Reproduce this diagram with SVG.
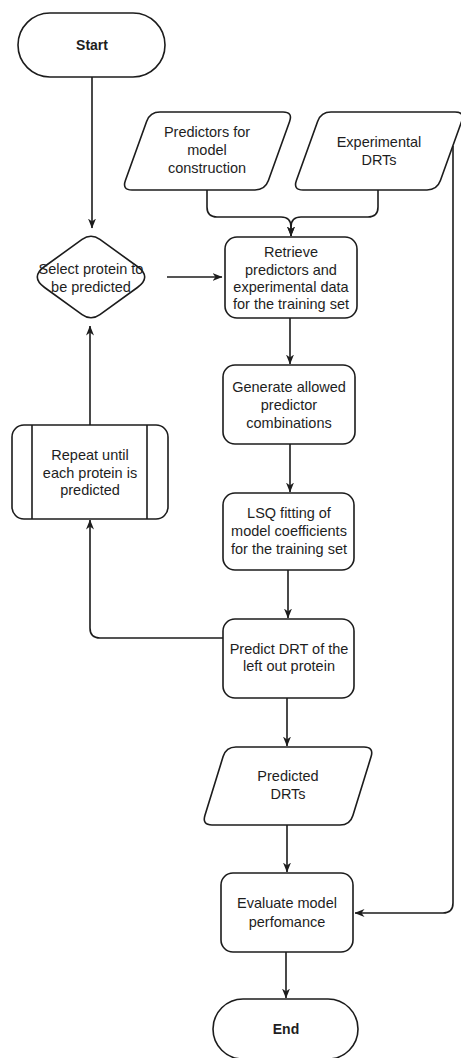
<svg xmlns="http://www.w3.org/2000/svg" width="461" height="1058" viewBox="0 0 461 1058">
  <style>
    .shape { fill: #ffffff; stroke: #1c1c1c; stroke-width: 1.6; }
    .edge { fill: none; stroke: #1c1c1c; stroke-width: 1.6; }
    .label { font-family: "Liberation Sans", Arial, sans-serif; font-size: 14.5px; fill: #1e1e1e; text-anchor: middle; }
    .bold { font-weight: bold; font-size: 14px; }
  </style>
  <defs>
    <marker id="arrow" viewBox="0 0 10 10" refX="9.5" refY="5" markerWidth="10" markerHeight="10" markerUnits="userSpaceOnUse" orient="auto">
      <path d="M0,1 L10,5 L0,9 L3,5 Z" fill="#1c1c1c"/>
    </marker>
  </defs>
  <rect width="461" height="1058" fill="#ffffff"/>

  <!-- connectors -->
  <g id="connectors">
    <path class="edge" d="M92,77 V228" marker-end="url(#arrow)"/>
    <path class="edge" d="M167,277 H222" marker-end="url(#arrow)"/>
    <path class="edge" d="M207,190 V207 Q207,217 217,217 H281 Q291,217 291,227 V236" marker-end="url(#arrow)"/>
    <path class="edge" d="M378,190 V207 Q378,217 368,217 H301 Q291,217 291,227 V236" marker-end="url(#arrow)"/>
    <path class="edge" d="M290,318 V364" marker-end="url(#arrow)"/>
    <path class="edge" d="M290,444 V492" marker-end="url(#arrow)"/>
    <path class="edge" d="M288,570 V618" marker-end="url(#arrow)"/>
    <path class="edge" d="M223,638 H100 Q90,638 90,628 V520" marker-end="url(#arrow)"/>
    <path class="edge" d="M90,425 V326" marker-end="url(#arrow)"/>
    <path class="edge" d="M287,698 V746" marker-end="url(#arrow)"/>
    <path class="edge" d="M287,825 V872" marker-end="url(#arrow)"/>
    <path class="edge" d="M453,146 V903 Q453,913 443,913 H355" marker-end="url(#arrow)"/>
    <path class="edge" d="M286,952 V998" marker-end="url(#arrow)"/>
  </g>

  <!-- start terminator -->
  <g id="start">
    <rect class="shape" x="18" y="13" width="147" height="64" rx="32" ry="32"/>
    <text class="label bold" x="92" y="50">Start</text>
  </g>

  <!-- input data -->
  <g id="predictors">
    <path class="shape" d="M160,112 L283,112 Q293,112 289.6,121.4 L268.4,180.6 Q265,190 255,190 L132,190 Q122,190 125.4,180.6 L146.6,121.4 Q150,112 160,112 Z"/>
    <text class="label" x="207" y="137">Predictors for</text>
    <text class="label" x="207" y="155">model</text>
    <text class="label" x="207" y="173">construction</text>
  </g>

  <g id="experimental">
    <path class="shape" d="M331,112 L455,112 Q465,112 461.6,121.4 L440.4,180.6 Q437,190 427,190 L303,190 Q293,190 296.4,180.6 L317.6,121.4 Q321,112 331,112 Z"/>
    <text class="label" x="379" y="147">Experimental</text>
    <text class="label" x="379" y="165">DRTs</text>
  </g>

  <!-- decision -->
  <g id="select">
    <path class="shape" d="M82.1,239.4 Q91,233 99.9,239.4 L137.4,266.5 Q152,277 137.4,287.5 L99.9,314.6 Q91,321 82.1,314.6 L44.6,287.5 Q30,277 44.6,266.5 Z"/>
    <text class="label" x="91" y="274">Select protein to</text>
    <text class="label" x="91" y="292">be predicted</text>
  </g>

  <g id="retrieve">
    <rect class="shape" x="225" y="237" width="132" height="81" rx="12" ry="12"/>
    <text class="label" x="291" y="257">Retrieve</text>
    <text class="label" x="291" y="275">predictors and</text>
    <text class="label" x="291" y="292">experimental data</text>
    <text class="label" x="291" y="309">for the training set</text>
  </g>

  <g id="generate">
    <rect class="shape" x="223" y="365" width="132" height="79" rx="12" ry="12"/>
    <text class="label" x="289" y="392">Generate allowed</text>
    <text class="label" x="289" y="410">predictor</text>
    <text class="label" x="289" y="428">combinations</text>
  </g>

  <g id="lsq">
    <rect class="shape" x="223" y="493" width="131" height="77" rx="12" ry="12"/>
    <text class="label" x="289" y="518">LSQ fitting of</text>
    <text class="label" x="289" y="536">model coefficients</text>
    <text class="label" x="289" y="554">for the training set</text>
  </g>

  <g id="repeat">
    <rect class="shape" x="12" y="425" width="156" height="94" rx="12" ry="12"/>
    <line class="edge" x1="32" y1="425" x2="32" y2="519"/>
    <line class="edge" x1="147" y1="425" x2="147" y2="519"/>
    <text class="label" x="90" y="460">Repeat until</text>
    <text class="label" x="90" y="478">each protein is</text>
    <text class="label" x="90" y="495">predicted</text>
  </g>

  <g id="predict">
    <rect class="shape" x="223" y="619" width="131" height="79" rx="12" ry="12"/>
    <text class="label" x="289" y="654">Predict DRT of the</text>
    <text class="label" x="289" y="671">left out protein</text>
  </g>

  <g id="predicted">
    <path class="shape" d="M236,747 L364,747 Q374,747 371.1,756.6 L352.9,815.4 Q350,825 340,825 L212,825 Q202,825 204.9,815.4 L223.1,756.6 Q226,747 236,747 Z"/>
    <text class="label" x="288" y="781">Predicted</text>
    <text class="label" x="288" y="799">DRTs</text>
  </g>

  <g id="evaluate">
    <rect class="shape" x="221" y="873" width="132" height="79" rx="12" ry="12"/>
    <text class="label" x="287" y="908">Evaluate model</text>
    <text class="label" x="287" y="927">perfomance</text>
  </g>

  <!-- end terminator -->
  <g id="end">
    <rect class="shape" x="213" y="999" width="145" height="60" rx="30" ry="30"/>
    <text class="label bold" x="286" y="1034">End</text>
  </g>
</svg>
